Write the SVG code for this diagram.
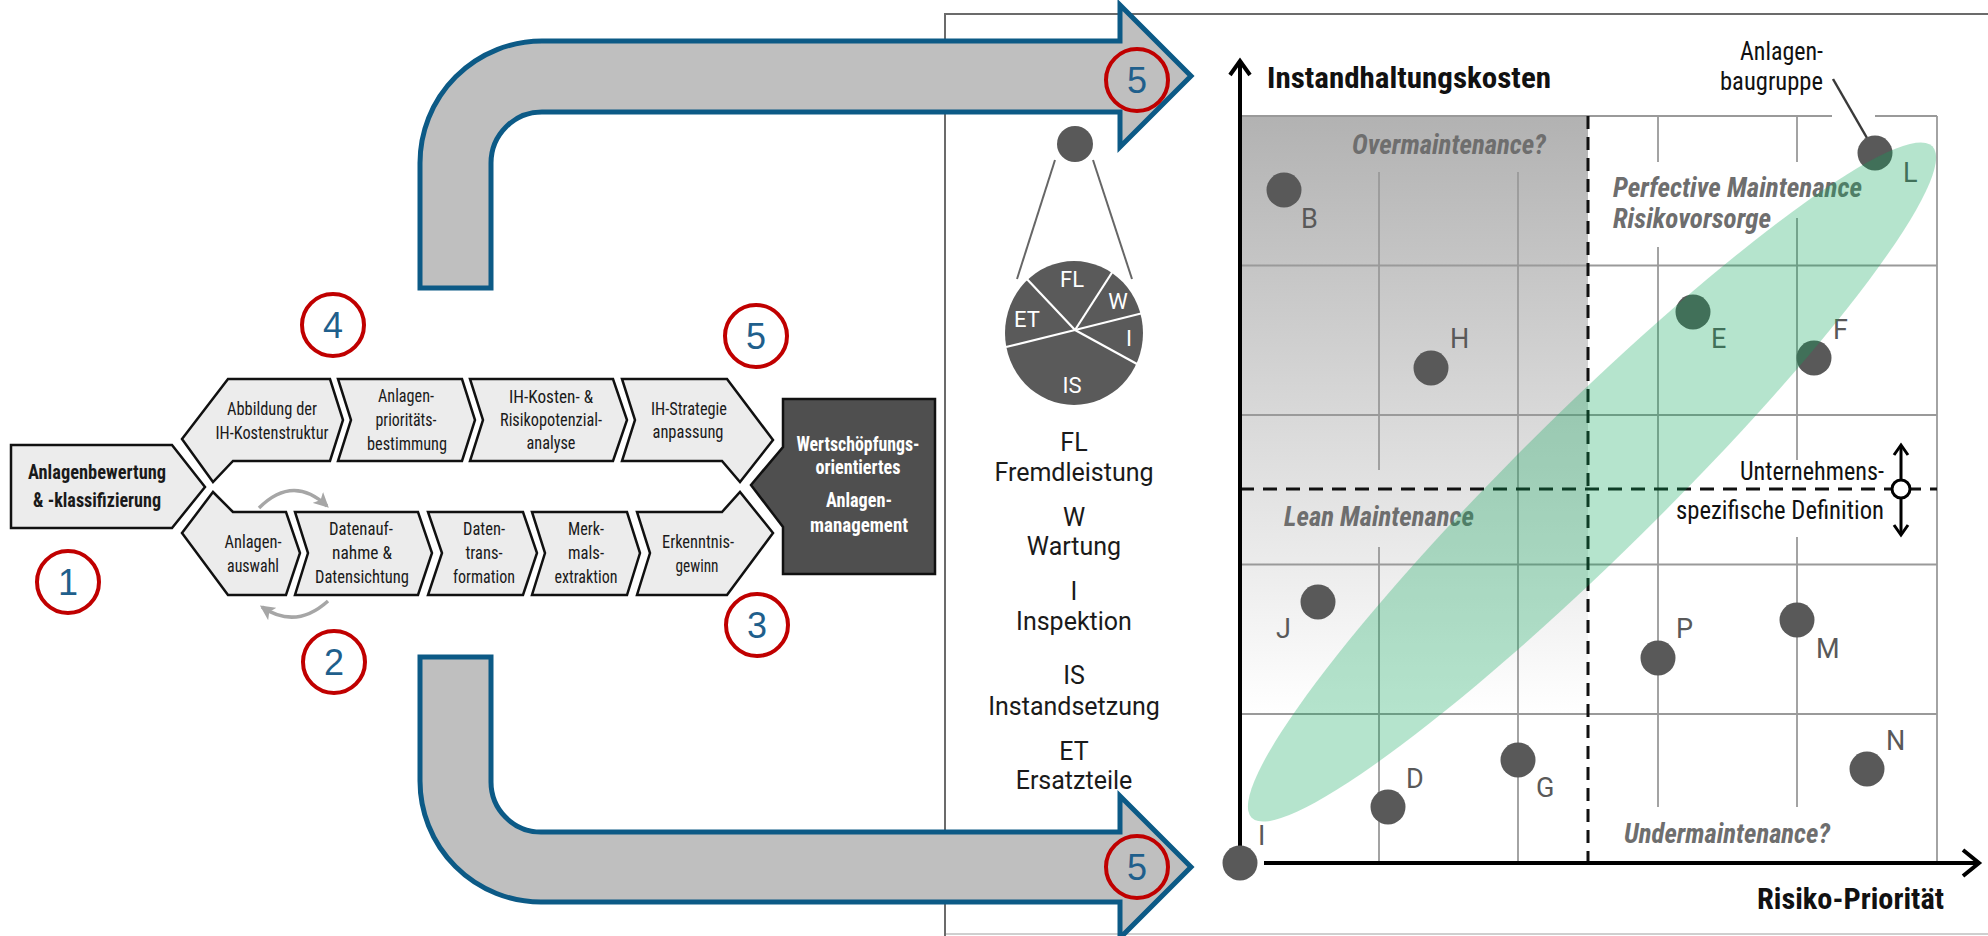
<svg xmlns="http://www.w3.org/2000/svg" width="1988" height="936" viewBox="0 0 1988 936">
<defs>
<style>
.chev{fill:#ececec;stroke:#111;stroke-width:2.5;stroke-linejoin:miter}
.dark{fill:#4f4f4f;stroke:#111;stroke-width:2.5}
.ct{font-family:"Liberation Sans Narrow","Roboto Condensed","DejaVu Sans Condensed","Liberation Sans",sans-serif;font-size:18.5px;fill:#1a1a1a;text-anchor:middle}
.cb{font-weight:bold;font-size:21px}
.cw{fill:#ffffff;font-weight:bold;font-size:20px}
.ring{fill:none;stroke:#c00000;stroke-width:4}
.num{font-family:"Liberation Sans",Arial,sans-serif;font-size:36px;fill:#1f5f8c;text-anchor:middle}
.big{fill:#bfbfbf;stroke:#0c5a86;stroke-width:5;stroke-linejoin:miter}
.curv{fill:none;stroke:#a6a6a6;stroke-width:3.5}
.dot{fill:#595959}
.dl{font-family:Roboto,"Liberation Sans",sans-serif;font-size:27px;fill:#595959}
.grid{stroke:#9a9a9a;stroke-width:1.8;fill:none}
.dash{stroke:#111;stroke-width:3;fill:none}
.it{font-family:"Roboto Condensed","Liberation Sans Narrow","DejaVu Sans Condensed",Roboto,sans-serif;font-weight:bold;font-style:italic;font-size:27px;fill:#6e6e6e}
.rc{font-family:"Roboto Condensed","Liberation Sans Narrow","DejaVu Sans Condensed",Roboto,sans-serif;fill:#111}
.lg{font-family:Roboto,"Liberation Sans",sans-serif;font-size:25px;fill:#1a1a1a;text-anchor:middle}
.pl{font-family:Roboto,"Liberation Sans",sans-serif;font-size:22px;fill:#ffffff;text-anchor:middle}
.axis{stroke:#000;stroke-width:4;fill:none}
</style>
<linearGradient id="gq" x1="0" y1="116" x2="0" y2="714" gradientUnits="userSpaceOnUse">
<stop offset="0" stop-color="#b2b2b2"/>
<stop offset="1" stop-color="#ffffff"/>
</linearGradient>
<marker id="ga" viewBox="0 0 12 12" refX="10" refY="6" markerWidth="15" markerHeight="15" markerUnits="userSpaceOnUse" orient="auto">
<path d="M0,0 L12,6 L0,12 L3,6 Z" fill="#a6a6a6"/>
</marker>
</defs>
<rect width="1988" height="936" fill="#ffffff"/>

<g id="frame">
<path d="M1990,14 H945 V936" fill="none" stroke="#6b6b6b" stroke-width="2"/>
<path d="M946,934 H1990" fill="none" stroke="#cfcfcf" stroke-width="2"/>
</g>

<g id="connectors">
<path class="big" d="M420,288 V163 A122,122 0 0 1 542,41 H1120 V5 L1191,76 L1120,147 V112 H542 A51,51 0 0 0 491,163 V288 Z"/>
<path class="big" d="M420,657 V781 A121,121 0 0 0 541,902 H1120 V938 L1191,867 L1120,796 V832 H541 A50,50 0 0 1 491,782 V657 Z"/>
<path class="curv" d="M259,508 Q293,474 327,506" marker-end="url(#ga)"/>
<path class="curv" d="M328,601 Q296,630 262,607" marker-end="url(#ga)"/>
</g>

<g id="n-bewertung">
<path class="chev" d="M11,445 H172 L205,487 L172,528 H11 Z"/>
<text class="ct cb" x="97" y="479" textLength="138" lengthAdjust="spacingAndGlyphs">Anlagenbewertung</text>
<text class="ct cb" x="97" y="507" textLength="128" lengthAdjust="spacingAndGlyphs">&amp; -klassifizierung</text>
</g>
<g id="n-abbildung">
<path class="chev" d="M228,379 H330 L343,420 L330,461 H233 L213,482 L182,439 Z"/>
<text class="ct" x="272" y="415" textLength="90" lengthAdjust="spacingAndGlyphs">Abbildung der</text>
<text class="ct" x="272" y="439" textLength="113" lengthAdjust="spacingAndGlyphs">IH-Kostenstruktur</text>
</g>
<g id="n-prio">
<path class="chev" d="M338,379 H462 L475,420 L462,461 H338 L351,420 Z"/>
<text class="ct" x="406" y="402" textLength="56" lengthAdjust="spacingAndGlyphs">Anlagen-</text>
<text class="ct" x="406" y="426" textLength="61" lengthAdjust="spacingAndGlyphs">prioritäts-</text>
<text class="ct" x="407" y="450" textLength="80" lengthAdjust="spacingAndGlyphs">bestimmung</text>
</g>
<g id="n-ihkosten">
<path class="chev" d="M470,379 H613 L627,420 L613,461 H470 L483,420 Z"/>
<text class="ct" x="551" y="403" textLength="84" lengthAdjust="spacingAndGlyphs">IH-Kosten- &amp;</text>
<text class="ct" x="551" y="426" textLength="102" lengthAdjust="spacingAndGlyphs">Risikopotenzial-</text>
<text class="ct" x="551" y="449" textLength="49" lengthAdjust="spacingAndGlyphs">analyse</text>
</g>
<g id="n-strategie">
<path class="chev" d="M622,379 H727 L773,440 L740,482 L722,461 H622 L635,420 Z"/>
<text class="ct" x="689" y="415" textLength="76" lengthAdjust="spacingAndGlyphs">IH-Strategie</text>
<text class="ct" x="688" y="438" textLength="71" lengthAdjust="spacingAndGlyphs">anpassung</text>
</g>
<g id="n-auswahl">
<path class="chev" d="M233,512 L213,492 L182,533 L228,595 H286 L300,553 L286,512 Z"/>
<text class="ct" x="253" y="548" textLength="57" lengthAdjust="spacingAndGlyphs">Anlagen-</text>
<text class="ct" x="253" y="572" textLength="52" lengthAdjust="spacingAndGlyphs">auswahl</text>
</g>
<g id="n-datenaufnahme">
<path class="chev" d="M295,512 H418 L432,553 L418,595 H295 L308,553 Z"/>
<text class="ct" x="361" y="535" textLength="64" lengthAdjust="spacingAndGlyphs">Datenauf-</text>
<text class="ct" x="362" y="559" textLength="60" lengthAdjust="spacingAndGlyphs">nahme &amp;</text>
<text class="ct" x="362" y="583" textLength="94" lengthAdjust="spacingAndGlyphs">Datensichtung</text>
</g>
<g id="n-datentrans">
<path class="chev" d="M428,512 H523 L537,553 L523,595 H428 L442,553 Z"/>
<text class="ct" x="484" y="535" textLength="42" lengthAdjust="spacingAndGlyphs">Daten-</text>
<text class="ct" x="484" y="559" textLength="37" lengthAdjust="spacingAndGlyphs">trans-</text>
<text class="ct" x="484" y="583" textLength="62" lengthAdjust="spacingAndGlyphs">formation</text>
</g>
<g id="n-merkmal">
<path class="chev" d="M532,512 H627 L640,553 L627,595 H532 L545,553 Z"/>
<text class="ct" x="586" y="535" textLength="36" lengthAdjust="spacingAndGlyphs">Merk-</text>
<text class="ct" x="586" y="559" textLength="36" lengthAdjust="spacingAndGlyphs">mals-</text>
<text class="ct" x="586" y="583" textLength="63" lengthAdjust="spacingAndGlyphs">extraktion</text>
</g>
<g id="n-erkenntnis">
<path class="chev" d="M637,512 H722 L740,492 L773,533 L727,595 H637 L650,553 Z"/>
<text class="ct" x="698" y="548" textLength="72" lengthAdjust="spacingAndGlyphs">Erkenntnis-</text>
<text class="ct" x="697" y="572" textLength="43" lengthAdjust="spacingAndGlyphs">gewinn</text>
</g>
<g id="n-anlagenmanagement">
<path class="dark" d="M783,399 H935 V574 H783 V527 L751,485 L783,447 Z"/>
<text class="ct cw" x="858" y="451" textLength="123" lengthAdjust="spacingAndGlyphs">Wertschöpfungs-</text>
<text class="ct cw" x="858" y="474" textLength="85" lengthAdjust="spacingAndGlyphs">orientiertes</text>
<text class="ct cw" x="859" y="507" textLength="66" lengthAdjust="spacingAndGlyphs">Anlagen-</text>
<text class="ct cw" x="859" y="532" textLength="98" lengthAdjust="spacingAndGlyphs">management</text>
</g>

<g id="m1"><circle class="ring" cx="68" cy="582" r="31"/><text class="num" x="68" y="595">1</text></g>
<g id="m2"><circle class="ring" cx="334" cy="662" r="31"/><text class="num" x="334" y="675">2</text></g>
<g id="m3"><circle class="ring" cx="757" cy="625" r="31"/><text class="num" x="757" y="638">3</text></g>
<g id="m4"><circle class="ring" cx="333" cy="325" r="31"/><text class="num" x="333" y="338">4</text></g>
<g id="m5a"><circle class="ring" cx="756" cy="336" r="31"/><text class="num" x="756" y="349">5</text></g>
<g id="m5b"><circle class="ring" cx="1137" cy="80" r="31"/><text class="num" x="1137" y="93">5</text></g>
<g id="m5c"><circle class="ring" cx="1137" cy="867" r="31"/><text class="num" x="1137" y="880">5</text></g>

<g id="pie">
<line x1="1055" y1="160" x2="1017" y2="279" stroke="#666" stroke-width="2"/>
<line x1="1093" y1="160" x2="1132" y2="279" stroke="#666" stroke-width="2"/>
<circle class="dot" cx="1075" cy="144" r="18"/>
<ellipse cx="1074" cy="333" rx="69" ry="72" fill="#5a5a5a"/>
<g stroke="#ffffff" stroke-width="2.2">
<line x1="1075" y1="330" x2="1025" y2="277"/>
<line x1="1075" y1="330" x2="1113" y2="271"/>
<line x1="1075" y1="330" x2="1143" y2="313"/>
<line x1="1075" y1="330" x2="1137" y2="364"/>
<line x1="1075" y1="330" x2="1006" y2="347"/>
</g>
<text class="pl" x="1072" y="287">FL</text>
<text class="pl" x="1118" y="309">W</text>
<text class="pl" x="1027" y="327">ET</text>
<text class="pl" x="1129" y="346">I</text>
<text class="pl" x="1072" y="393">IS</text>
</g>

<g id="legend">
<text class="lg" x="1074" y="451">FL</text>
<text class="lg" x="1074" y="481">Fremdleistung</text>
<text class="lg" x="1074" y="526">W</text>
<text class="lg" x="1074" y="555">Wartung</text>
<text class="lg" x="1074" y="600">I</text>
<text class="lg" x="1074" y="630">Inspektion</text>
<text class="lg" x="1074" y="684">IS</text>
<text class="lg" x="1074" y="715">Instandsetzung</text>
<text class="lg" x="1074" y="760">ET</text>
<text class="lg" x="1074" y="789">Ersatzteile</text>
</g>

<g id="chart">
<rect x="1240" y="116" width="348" height="598" fill="url(#gq)"/>
<g class="grid">
<path d="M1240,116 H1832 M1875,116 H1937"/>
<path d="M1240,265.5 H1937 M1240,415 H1937 M1240,564.5 H1937 M1240,714 H1937"/>
<path d="M1379,172 V470 M1379,547 V863"/>
<path d="M1518,172 V863"/>
<path d="M1658,116 V162 M1658,247 V807"/>
<path d="M1797,116 V162 M1797,218 V460 M1797,537 V807"/>
<path d="M1937,116 V863"/>
</g>
<path class="dash" d="M1588,116 V863" stroke-dasharray="13 8"/>
<path class="dash" d="M1240,489 H1937" stroke-dasharray="14 9"/>

<text class="it" x="1352" y="154" textLength="194" lengthAdjust="spacingAndGlyphs">Overmaintenance?</text>
<text class="it" x="1613" y="197" textLength="249" lengthAdjust="spacingAndGlyphs">Perfective Maintenance</text>
<text class="it" x="1613" y="228" textLength="158" lengthAdjust="spacingAndGlyphs">Risikovorsorge</text>
<text class="it" x="1284" y="526" textLength="190" lengthAdjust="spacingAndGlyphs">Lean Maintenance</text>
<text class="it" x="1624" y="843" textLength="206" lengthAdjust="spacingAndGlyphs">Undermaintenance?</text>

<text class="rc" x="1823" y="60" font-size="25" text-anchor="end" textLength="83" lengthAdjust="spacingAndGlyphs">Anlagen-</text>
<text class="rc" x="1823" y="90" font-size="25" text-anchor="end" textLength="103" lengthAdjust="spacingAndGlyphs">baugruppe</text>
<line x1="1833" y1="79" x2="1867" y2="138" stroke="#3a3a3a" stroke-width="2.5"/>

<text class="rc" x="1884" y="480" font-size="26" text-anchor="end" textLength="144" lengthAdjust="spacingAndGlyphs">Unternehmens-</text>
<text class="rc" x="1884" y="519" font-size="26" text-anchor="end" textLength="208" lengthAdjust="spacingAndGlyphs">spezifische Definition</text>
<g stroke="#000" stroke-width="3" fill="none">
<path d="M1901,446 V480 M1901,498 V534"/>
<path d="M1894,455 L1901,445 L1908,455 M1894,525 L1901,535 L1908,525"/>
</g>
<circle cx="1901" cy="489" r="9" fill="#ffffff" stroke="#000" stroke-width="3"/>

<g id="dots">
<circle class="dot" cx="1875" cy="153" r="17.5"/><text class="dl" x="1903" y="182">L</text>
<circle class="dot" cx="1284" cy="190" r="17.5"/><text class="dl" x="1301" y="228">B</text>
<circle class="dot" cx="1431" cy="368" r="17.5"/><text class="dl" x="1450" y="348">H</text>
<circle class="dot" cx="1693" cy="312" r="17.5"/><text class="dl" x="1711" y="348">E</text>
<circle class="dot" cx="1814" cy="358" r="17.5"/><text class="dl" x="1833" y="339">F</text>
<circle class="dot" cx="1318" cy="602" r="17.5"/><text class="dl" x="1276" y="638">J</text>
<circle class="dot" cx="1658" cy="658" r="17.5"/><text class="dl" x="1676" y="638">P</text>
<circle class="dot" cx="1797" cy="620" r="17.5"/><text class="dl" x="1816" y="658">M</text>
<circle class="dot" cx="1388" cy="807" r="17.5"/><text class="dl" x="1406" y="788">D</text>
<circle class="dot" cx="1518" cy="760" r="17.5"/><text class="dl" x="1536" y="797">G</text>
<circle class="dot" cx="1867" cy="769" r="17.5"/><text class="dl" x="1886" y="750">N</text>
<text class="dl" x="1258" y="845">I</text>
</g>

<ellipse cx="1592" cy="482" rx="478" ry="72" transform="rotate(-44.6 1592 482)" fill="#0aa65a" fill-opacity="0.3"/>

<path class="axis" d="M1240,863 V62"/>
<path class="axis" d="M1230,75 L1240,61 L1250,75"/>
<path class="axis" d="M1264,863 H1978"/>
<path class="axis" d="M1963,850 L1979,863 L1963,876"/>
<circle class="dot" cx="1240" cy="863" r="17.5"/>

<text class="rc" x="1267" y="88" font-size="29" font-weight="bold" textLength="284" lengthAdjust="spacingAndGlyphs">Instandhaltungskosten</text>
<text class="rc" x="1757" y="909" font-size="29" font-weight="bold" textLength="187" lengthAdjust="spacingAndGlyphs">Risiko-Priorität</text>
</g>
</svg>
